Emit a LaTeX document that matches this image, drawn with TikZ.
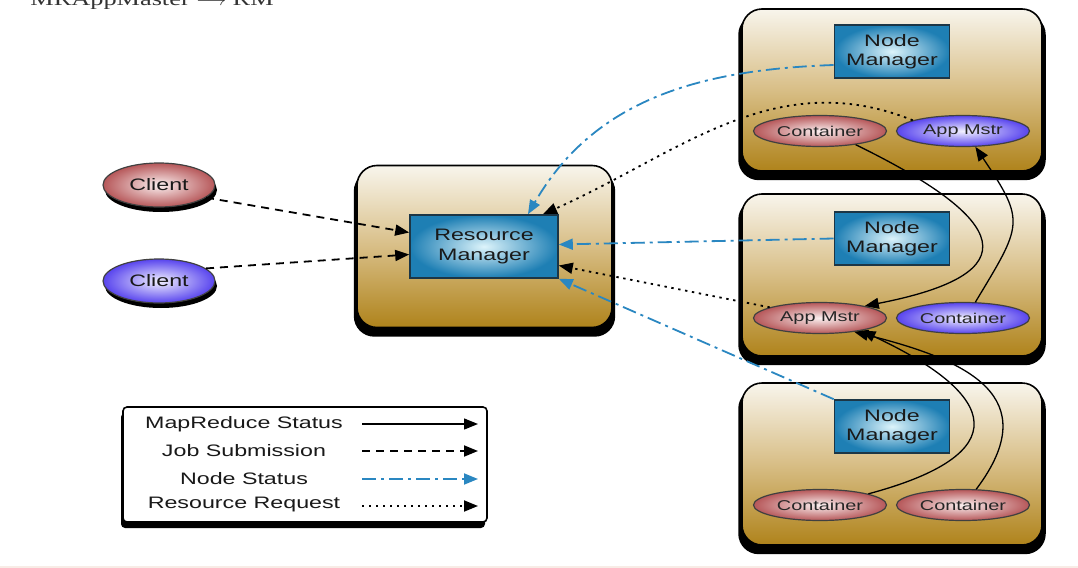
\documentclass[tikz,border=0pt]{standalone}
\usepackage{fontspec}
\setsansfont[FakeStretch=1.4]{Liberation Sans}
\newfontfamily\capfont[FakeStretch=1.4]{Liberation Serif}
\usepackage{tikz}
\usetikzlibrary{arrows.meta,shapes.geometric,shadows}
\definecolor{HostTop}{HTML}{F8F5EC}
\definecolor{HostMid}{HTML}{D8BE86}
\definecolor{HostBot}{HTML}{AF831B}
\definecolor{MgrIn}{HTML}{DDF4FB}
\definecolor{MgrOut}{HTML}{1E7FB4}
\definecolor{MgrEdge}{HTML}{1C3646}
\definecolor{RedIn}{HTML}{FBF0F0}
\definecolor{RedOut}{HTML}{B65759}
\definecolor{BlueIn}{HTML}{F2F1FF}
\definecolor{BlueOut}{HTML}{5844EE}
\definecolor{NodeBlue}{HTML}{2A87C1}
\definecolor{EdgeLine}{HTML}{F8ECE6}

\tikzset{
  hostbox/.style={draw, line width=0.8pt, rounded corners=10pt, top color=HostTop, bottom color=HostBot, middle color=HostMid, minimum width=150pt, minimum height=81pt, drop shadow={shadow xshift=0pt, shadow yshift=-3.5pt, shadow scale=1.025, fill=black, opacity=1}},
  mgrbox/.style={draw=MgrEdge, line width=0.8pt, inner color=MgrIn, outer color=MgrOut, minimum width=57.5pt, minimum height=26.5pt, inner sep=0pt, align=center, text=black!90, font=\sffamily\fontsize{8.3}{9.7}\selectfont},
  pod/.style={ellipse, draw=black!75, line width=0.6pt, minimum width=66.5pt, minimum height=15.5pt, inner sep=0pt, text=black!85, font=\sffamily\fontsize{7.1}{8}\selectfont},
  redpod/.style={pod, inner color=RedIn, outer color=RedOut},
  bluepod/.style={pod, inner color=BlueIn, outer color=BlueOut},
  client/.style={ellipse, draw=black!75, line width=0.6pt, minimum width=56pt, minimum height=22pt, inner sep=0pt, text=black!90, font=\sffamily\fontsize{8.3}{9.7}\selectfont, drop shadow={shadow xshift=1pt, shadow yshift=-2.5pt, fill=black, opacity=1}},
  keybox/.style={draw, fill=white, line width=0.8pt, rounded corners=2pt, minimum width=182pt, minimum height=57.5pt, drop shadow={shadow xshift=-1pt, shadow yshift=-3pt, fill=black, opacity=1}},
  keytext/.style={inner sep=0pt, text=black!90, font=\sffamily\fontsize{8.3}{9.6}\selectfont},
  mrstat/.style={-{Triangle[length=7pt,width=5.5pt]}, line width=0.65pt},
  jobsub/.style={-{Triangle[length=7pt,width=5.5pt]}, line width=0.9pt, dash pattern=on 4pt off 3pt},
  nodestat/.style={-{Triangle[length=7pt,width=5.5pt]}, line width=0.9pt, NodeBlue, dash pattern=on 7pt off 2.5pt on 1.5pt off 2.5pt},
  resreq/.style={-{Triangle[length=7pt,width=5.5pt]}, line width=0.9pt, dash pattern=on 1.2pt off 2.3pt}
}

\begin{document}
\begin{tikzpicture}[x=0.5pt, y=0.5pt]
  \useasboundingbox[fill=white] (0,0) rectangle (1078,-568);
  \fill[EdgeLine] (0,-566) rectangle (1078,-568);
  \node[inner sep=0pt, anchor=base west, text=black!80, font=\capfont\fontsize{9.4}{11}\selectfont] (cap) at (30,-5) {MRAppMaster $\longrightarrow$ RM};

  % hosts
  \node[hostbox, minimum width=127.5pt] (rmhost) at (484.5,-246.5) {};
  \node[hostbox] (hosta) at (892,-90) {};
  \node[hostbox] (hostb) at (892,-275) {};
  \node[hostbox] (hostc) at (892,-464) {};

  \node[mgrbox, minimum width=74pt, minimum height=31.5pt] (rm) at (484,-246.5) {Resource\\Manager};
  \node[mgrbox] (nma) at (892,-51.5) {Node\\Manager};
  \node[mgrbox] (nmb) at (892,-238.5) {Node\\Manager};
  \node[mgrbox] (nmc) at (892,-426.5) {Node\\Manager};

  \node[redpod] (cona) at (820,-131) {Container};
  \node[bluepod] (mstra) at (963,-131) {App Mstr};
  \node[redpod] (mstrb) at (820,-318) {App Mstr};
  \node[bluepod] (conb) at (963,-318) {Container};
  \node[redpod] (conc) at (820,-505) {Container};
  \node[redpod] (cond) at (963,-505) {Container};

  \node[client, inner color=RedIn, outer color=RedOut] (ca) at (159,-185) {Client};
  \node[client, inner color=BlueIn, outer color=BlueOut] (cb) at (159,-281) {Client};

  % legend
  \node[keybox] (key) at (305,-464.5) {};
  \node[keytext] (ka) at (244,-424) {MapReduce Status};
  \node[keytext] (kb) at (244,-451) {Job Submission};
  \node[keytext] (kc) at (244,-479) {Node Status};
  \node[keytext] (kd) at (244,-505) {Resource Request};
  \coordinate (kas) at (362,-424); \coordinate (kae) at (478,-424);
  \coordinate (kbs) at (362,-451); \coordinate (kbe) at (478,-451);
  \coordinate (kcs) at (362,-479); \coordinate (kce) at (478,-479);
  \coordinate (kds) at (362,-506); \coordinate (kde) at (478,-506);
  \draw[mrstat] (kas) -- (kae);
  \draw[jobsub] (kbs) -- (kbe);
  \draw[nodestat] (kcs) -- (kce);
  \draw[resreq] (kds) -- (kde);

  % job submission
  \draw[jobsub] (ca.-15) -- ([yshift=7pt]rm.west);
  \draw[jobsub] (cb.15) -- ([yshift=-4pt]rm.west);

  % node status
  \draw[nodestat] ([yshift=-6.75pt]nma.west) to[out=182, in=60] ([xshift=22pt]rm.north);
  \draw[nodestat] (nmb.west) -- ([yshift=1pt]rm.east);
  \draw[nodestat] (nmc.north west) -- (rm.south east);

  % resource request
  \draw[resreq] (mstra.168) to[out=158, in=24] ([xshift=29.5pt]rm.north);
  \draw[resreq] (mstrb.168) -- ([yshift=-9.5pt]rm.east);

  % mapreduce status
  \draw[mrstat] (cona.-21) to[out=-26, in=11, looseness=2.7] (mstrb.15);
  \draw[mrstat] (conb.52) to[out=59, in=-56, looseness=1.5] (mstra.-52);
  \draw[mrstat] (conc.13) to[out=15, in=-25, looseness=2.4] (mstrb.-17);
  \draw[mrstat] (cond.50) to[out=53, in=-14, looseness=1.5] (mstrb.-22);
\end{tikzpicture}
\end{document}
